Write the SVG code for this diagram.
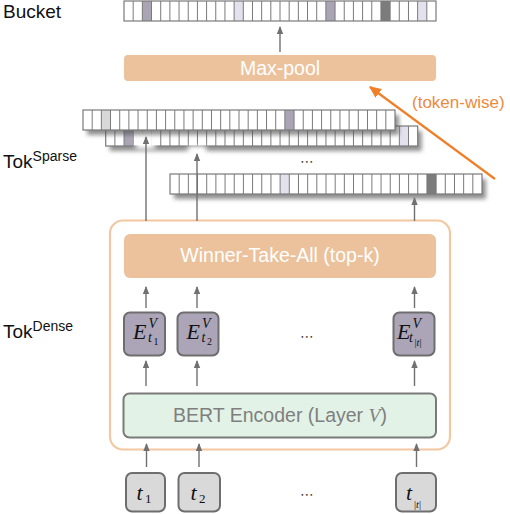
<svg xmlns="http://www.w3.org/2000/svg" xmlns:xlink="http://www.w3.org/1999/xlink" width="510" height="514" viewBox="0 0 510 514">
<style>
.lbl{font-family:"Liberation Sans",Arial,sans-serif;fill:#111;}
.btxt{font-family:"Liberation Sans",Arial,sans-serif;font-size:19.5px;text-anchor:middle;}
.math{font-family:"Liberation Serif","Times New Roman",serif;font-style:italic;fill:#111;}
.up{font-style:normal;}
.orangebox{fill:#ecc29c;}
.ebox{fill:#aba5b7;stroke:#6e6e6e;stroke-width:2;}
.tbox{fill:#d9d9d9;stroke:#6e6e6e;stroke-width:2;}
.bg{fill:#fff;}
.dk{fill:#a9a5b5;}
.lv{fill:#e4e1ef;}
.lg{fill:#d8d8d8;}
.dd{fill:#7c7c7c;}
.conn{stroke:#707070;stroke-width:1.4;fill:none;marker-end:url(#ah);}
.dots{font-family:"DejaVu Sans",sans-serif;font-size:14px;fill:#444;text-anchor:middle;}
</style>
<defs>
<marker id="ah" viewBox="0 0 8 8" refX="7" refY="4" markerWidth="8" markerHeight="8" markerUnits="userSpaceOnUse" orient="auto">
<path d="M0,0.8 L8,4 L0,7.2 z" fill="#707070"/>
</marker>
<marker id="oh" viewBox="0 0 10 10" refX="9" refY="5" markerWidth="12" markerHeight="12" markerUnits="userSpaceOnUse" orient="auto">
<path d="M0,0.5 L10,5 L0,9.5 z" fill="#f07f2a"/>
</marker>
<filter id="sh" x="-5%" y="-30%" width="115%" height="190%">
<feDropShadow dx="4" dy="5" stdDeviation="2" flood-color="#555" flood-opacity="0.65"/>
</filter>
<filter id="blur" x="-50%" y="-50%" width="200%" height="200%">
<feGaussianBlur stdDeviation="2.5"/>
</filter>
<g id="grid">
<path d="M9.18 0V20M18.35 0V20M27.53 0V20M36.71 0V20M45.88 0V20M55.06 0V20M64.24 0V20M73.41 0V20M82.59 0V20M91.76 0V20M100.94 0V20M110.12 0V20M119.29 0V20M128.47 0V20M137.65 0V20M146.82 0V20M156 0V20M165.18 0V20M174.35 0V20M183.53 0V20M192.71 0V20M201.88 0V20M211.06 0V20M220.24 0V20M229.41 0V20M238.59 0V20M247.76 0V20M256.94 0V20M266.12 0V20M275.29 0V20M284.47 0V20M293.65 0V20M302.82 0V20" stroke="#7a7a7a" stroke-width="1" fill="none"/>
<rect x="0" y="0" width="312" height="20" fill="none" stroke="#7a7a7a" stroke-width="1.2"/>
</g>
</defs>
<rect width="510" height="514" fill="#fff"/>

<g id="labels">
<text class="lbl" x="3" y="18" font-size="19">Bucket</text>
<text class="lbl" x="3" y="168" font-size="19">Tok<tspan font-size="14" dy="-7">Sparse</tspan></text>
<text class="lbl" x="3" y="338" font-size="19">Tok<tspan font-size="14" dy="-7">Dense</tspan></text>
</g>

<g id="bucket" transform="translate(124,1)">
<rect class="bg" width="312" height="20"/>
<rect class="dk" x="18.35" width="9.18" height="20"/>
<rect class="lv" x="110.12" width="9.18" height="20"/>
<rect class="dk" x="201.88" width="9.18" height="20"/>
<rect class="dd" x="256.94" width="9.18" height="20"/>
<rect class="lv" x="293.65" width="9.18" height="20"/>
<use href="#grid"/>
</g>

<g id="maxpool">
<rect class="orangebox" x="124" y="55" width="312" height="26" rx="4"/>
<text class="btxt" x="280" y="75" fill="#fff">Max-pool</text>
</g>

<g id="tok-sparse-3" transform="translate(170,174)">
<rect class="bg" width="312" height="20" filter="url(#sh)"/>
<rect class="lv" x="110.12" width="9.18" height="20"/>
<rect class="dd" x="256.94" width="9.18" height="20"/>
<use href="#grid"/>
</g>

<g id="tok-sparse-2" transform="translate(105.7,126)">
<rect class="bg" width="312" height="20" filter="url(#sh)"/>
<rect class="dk" x="18.35" width="9.18" height="20"/>
<rect class="lv" x="293.65" width="9.18" height="20"/>
<use href="#grid"/>
</g>

<g id="halos">
<rect x="136" y="130" width="19" height="19" fill="#fff" filter="url(#blur)"/>
<rect x="188" y="146" width="18" height="14" fill="#fff" filter="url(#blur)"/>
</g>

<g id="tok-sparse-1" transform="translate(83,110)">
<rect class="bg" width="312" height="20" filter="url(#sh)"/>
<rect class="lg" x="18.35" width="9.18" height="20"/>
<rect class="dk" x="201.88" width="9.18" height="20"/>
<use href="#grid"/>
</g>

<text class="dots" x="307" y="166">⋯</text>

<g id="token-wise-label">
<text class="lbl" x="412" y="108" font-size="17" style="fill:#ee8a3c">(token-wise)</text>
</g>

<g id="encoder-container">
<rect x="110" y="220.5" width="340" height="229" rx="13" fill="none" stroke="#f3c8a1" stroke-width="2.2"/>
</g>

<g id="wta">
<rect class="orangebox" x="124" y="234" width="312" height="44" rx="6"/>
<text class="btxt" x="280" y="262" fill="#fff">Winner-Take-All (top-k)</text>
</g>

<g id="e1">
<rect class="ebox" x="124" y="312.5" width="41" height="43" rx="6"/>
<text class="math" x="133" y="339" font-size="22">E</text>
<text class="math" x="148.5" y="328" font-size="14">V</text>
<text class="math" x="148" y="342" font-size="14">t</text>
<text class="math up" x="153.5" y="345" font-size="10">1</text>
</g>
<g id="e2">
<rect class="ebox" x="177.5" y="312.5" width="41" height="43" rx="6"/>
<text class="math" x="186.5" y="339" font-size="22">E</text>
<text class="math" x="202" y="328" font-size="14">V</text>
<text class="math" x="201.5" y="342" font-size="14">t</text>
<text class="math up" x="207" y="345" font-size="10">2</text>
</g>
<g id="e3">
<rect class="ebox" x="393.5" y="312.5" width="41" height="43" rx="6"/>
<text class="math" x="397" y="339" font-size="22">E</text>
<text class="math" x="412.5" y="328" font-size="14">V</text>
<text class="math" x="409" y="342" font-size="14">t</text>
<text class="math" x="414.5" y="345.5" font-size="10.5"><tspan class="up">|</tspan>t<tspan class="up">|</tspan></text>
</g>
<text class="dots" x="307" y="341">⋯</text>

<g id="bert">
<rect x="123.5" y="393.5" width="312.5" height="44" rx="6" fill="#e3f2e6" stroke="#7a7a7a" stroke-width="2"/>
<text class="btxt" x="280" y="422" fill="#7f7f7f">BERT Encoder (Layer <tspan font-family="Liberation Serif,serif" font-style="italic">V</tspan>)</text>
</g>

<g id="t1">
<rect class="tbox" x="126" y="473" width="39" height="38.5" rx="6"/>
<text class="math" x="136.5" y="500" font-size="22">t</text>
<text class="math up" x="145" y="503" font-size="13">1</text>
</g>
<g id="t2">
<rect class="tbox" x="178.5" y="473" width="41.5" height="38.5" rx="6"/>
<text class="math" x="190.5" y="500" font-size="22">t</text>
<text class="math up" x="199" y="503" font-size="13">2</text>
</g>
<g id="t3">
<rect class="tbox" x="396" y="473" width="40" height="38.5" rx="6"/>
<text class="math" x="406" y="500" font-size="22">t</text>
<text class="math" x="414" y="507.5" font-size="10.5"><tspan class="up">|</tspan>t<tspan class="up">|</tspan></text>
</g>
<text class="dots" x="307" y="499">⋯</text>

<g id="connectors">
<line class="conn" x1="280" y1="52" x2="280" y2="27"/>
<line x1="495" y1="179" x2="370" y2="87" stroke="#f07f2a" stroke-width="2.2" marker-end="url(#oh)"/>
<line class="conn" x1="146" y1="221" x2="146" y2="137"/>
<line class="conn" x1="197" y1="221" x2="197" y2="154"/>
<line class="conn" x1="414.5" y1="221" x2="414.5" y2="198"/>
<line class="conn" x1="146" y1="308" x2="146" y2="287"/>
<line class="conn" x1="197" y1="308" x2="197" y2="287"/>
<line class="conn" x1="414.5" y1="308" x2="414.5" y2="287"/>
<line class="conn" x1="146" y1="386" x2="146" y2="361"/>
<line class="conn" x1="197" y1="386" x2="197" y2="361"/>
<line class="conn" x1="414.5" y1="386" x2="414.5" y2="361"/>
<line class="conn" x1="146.5" y1="467" x2="146.5" y2="444"/>
<line class="conn" x1="199" y1="467" x2="199" y2="444"/>
<line class="conn" x1="416.5" y1="467" x2="416.5" y2="444"/>
</g>
</svg>
